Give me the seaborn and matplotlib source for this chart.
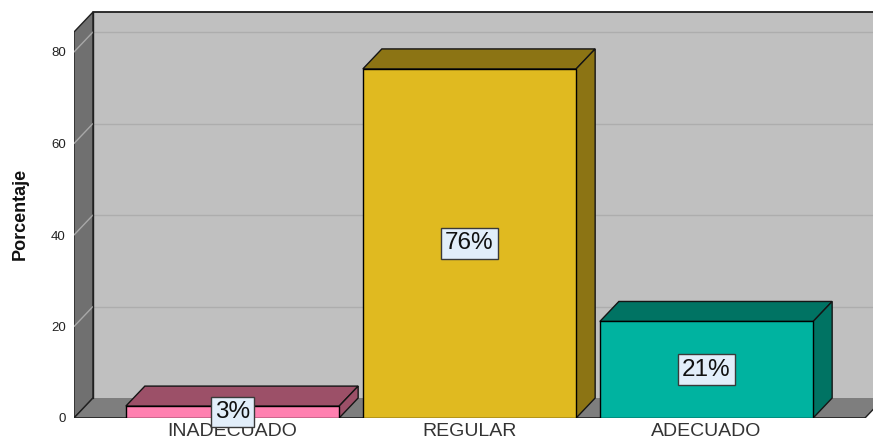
import matplotlib
matplotlib.use("Agg")
import matplotlib.pyplot as plt
import seaborn as sns
import pandas as pd
from matplotlib.patches import Polygon, Rectangle

# ---- data ----
categories = ["INADECUADO", "REGULAR", "ADECUADO"]
values = [2.6, 76.3, 21.1]
value_labels = ["3%", "76%", "21%"]
yticks = [0, 20, 40, 60, 80]

front_colors = ["#FF80B0", "#E0BA20", "#00B3A0"]
dark_colors = ["#9C5068", "#8C7414", "#007363"]

sns.set_theme(style="white")
plt.rcParams["font.family"] = ["Liberation Sans", "DejaVu Sans"]

W, H = 873, 445
fig = plt.figure(figsize=(W / 100, H / 100), dpi=100)

# geometry (pixels)
px_left, px_bottom, px_top = 74, 418, 10
px_per_x, px_per_y = 237.0, 4.575
ax = fig.add_axes([px_left / W, (H - px_bottom) / H,
                   (W - px_left) / W, (px_bottom - px_top) / H])
xmin = -(232.5 - px_left) / px_per_x
xmax = xmin + (W - px_left) / px_per_x
ymax = (px_bottom - px_top) / px_per_y

dx = 19.0 / px_per_x
dy = 20.0 / px_per_y
wall_top = (px_bottom - 32) / px_per_y  # front top of left wall

df = pd.DataFrame({"cat": categories, "val": values})
sns.barplot(data=df, x="cat", y="val", hue="cat", palette=front_colors,
            width=0.9, edgecolor="black", linewidth=1.0, legend=False,
            ax=ax, zorder=5, saturation=1)
bars = list(ax.patches)

ax.set_xlim(xmin, xmax)
ax.set_ylim(0, ymax)
for s in ax.spines.values():
    s.set_visible(False)
ax.set_facecolor("white")

# back wall
ax.add_patch(Rectangle((xmin + dx, dy), xmax + 1 - (xmin + dx), wall_top,
                       facecolor="#C0C0C0", edgecolor="none", zorder=0))
ax.plot([xmin + dx, xmax + 1], [wall_top + dy, wall_top + dy], color="#202020", lw=1.3, zorder=1)
ax.plot([xmin + dx, xmin + dx], [dy, wall_top + dy], color="#202020", lw=1.0, zorder=1.5)
# left wall
ax.add_patch(Polygon([(xmin, 0), (xmin, wall_top), (xmin + dx, wall_top + dy), (xmin + dx, dy)],
                     closed=True, facecolor="#707070", edgecolor="#202020", lw=1.0, zorder=1))
# floor
front_right = xmin + (865 - px_left) / px_per_x
ax.add_patch(Polygon([(xmin, 0), (xmin + dx, dy), (front_right + dx, dy), (front_right, 0)],
                     closed=True, facecolor="#7E7E7E", edgecolor="none", zorder=1))
ax.plot([xmin, front_right], [0, 0], color="#202020", lw=1.2, zorder=1.6)
ax.plot([xmin, xmin + dx], [0, dy], color="#202020", lw=1.0, zorder=1.6)
ax.plot([front_right, front_right + dx], [0, dy], color="#202020", lw=1.0, zorder=1.6)

# grid lines
for v in yticks[1:]:
    ax.plot([xmin + dx, xmax + 1], [v + dy, v + dy], color="#ADADAD", lw=1.0, zorder=0.5)
    ax.plot([xmin, xmin + dx], [v, v + dy], color="#A8A8A8", lw=1.0, zorder=1.2)

# 3D bar faces
for p in bars:
    xl = p.get_x()
    xr = xl + p.get_width()
    h = p.get_height()
    idx = int(round(xl + p.get_width() / 2))
    col = dark_colors[idx]
    top = Polygon([(xl, h), (xl + dx, h + dy), (xr + dx, h + dy), (xr, h)], closed=True,
                  facecolor=col, edgecolor="#151515", lw=1.0, zorder=4)
    side = Polygon([(xr, 0), (xr, h), (xr + dx, h + dy), (xr + dx, dy)], closed=True,
                   facecolor=col, edgecolor="#151515", lw=1.0, zorder=4)
    ax.add_patch(top)
    ax.add_patch(side)
    ax.text(xl + p.get_width() / 2, h / 2, value_labels[idx], ha="center", va="center",
            fontsize=17.5, color="#111111", zorder=10,
            bbox=dict(boxstyle="square,pad=0.18", fc="#E2EEFA", ec="#3A3A3A", lw=1.0))

ax.set_yticks(yticks)
ax.set_yticklabels([str(t) for t in yticks], fontsize=9.5, color="#222222")
ax.tick_params(axis="y", length=0, pad=6)
ax.tick_params(axis="x", length=0, pad=3.5, labelsize=14, labelcolor="#333333")
ax.set_xlabel("")
ax.set_ylabel("Porcentaje", fontsize=13, fontweight="bold", color="#111111", labelpad=16)

fig.savefig("out.png", dpi=100)
